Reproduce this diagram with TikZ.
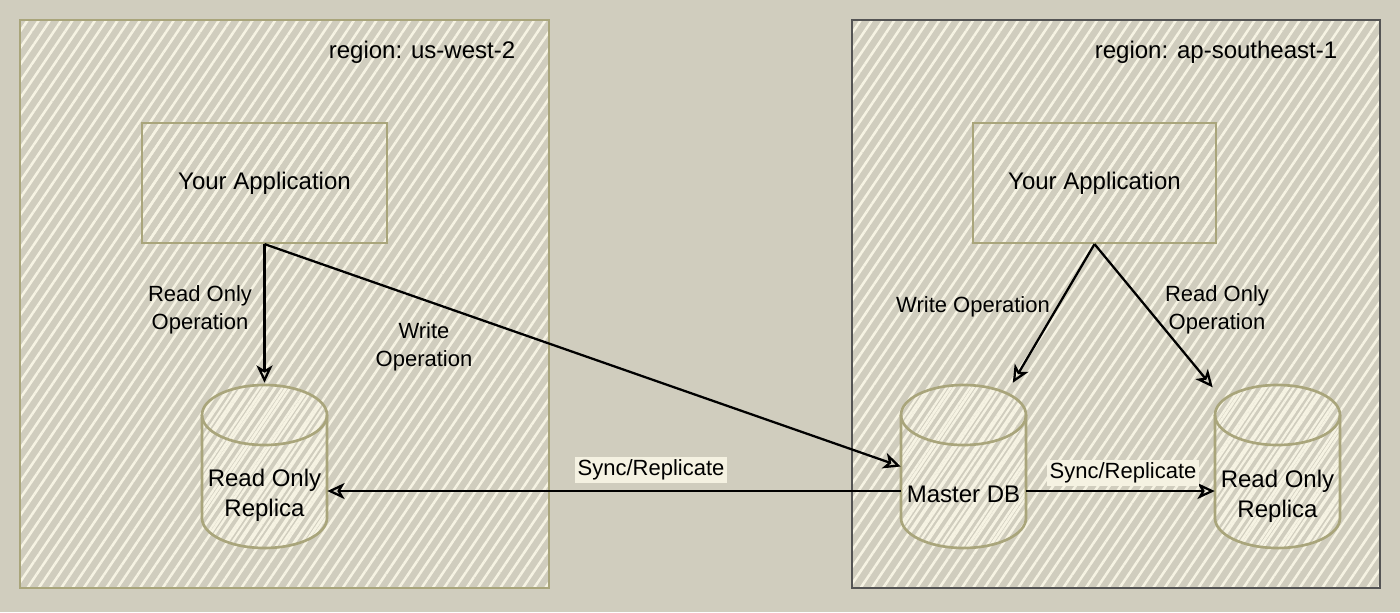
\documentclass[tikz,border=0pt]{standalone}
\usepackage{fontspec}
\setmainfont{Liberation Sans}
\usetikzlibrary{arrows.meta,patterns.meta,calc}
\definecolor{bg}{HTML}{D0CDBE}
\definecolor{hatch}{HTML}{F6F3E3}
\definecolor{olive}{HTML}{A9A57B}
\definecolor{darkb}{HTML}{545454}
\definecolor{lblbg}{HTML}{F5F2E2}
\newcommand\mycyl[5]{%
  \path[cylfill] (#2-62.5,#3-51.5) -- (#2-62.5,#3+51.5)
    arc[start angle=180,end angle=360,x radius=46.875pt,y radius=22.5pt]
    -- (#2+62.5,#3-51.5)
    arc[start angle=0,end angle=180,x radius=46.875pt,y radius=22.5pt] -- cycle;
  \draw[cylline] (#2-62.5,#3-51.5)
    arc[start angle=180,end angle=360,x radius=46.875pt,y radius=22.5pt];
  \node[cylbox] (#1) at (#2,#3) {};
  \node[cyltext] (#1t) at (#2,#3+#4) {#5};
}
\begin{document}
\begin{tikzpicture}[x=0.75pt,y=-0.75pt,
  hatched/.style={pattern={Lines[angle=56,distance=7pt,line width=1.9pt]},pattern color=hatch},
  densehatch/.style={pattern={Lines[angle=56,distance=4.8pt,line width=1.7pt]},pattern color=hatch},
  regionbox/.style={hatched,line width=2pt,minimum height=426pt,inner sep=0pt},
  appbox/.style={draw=olive,line width=1.6pt,hatched,minimum width=183.75pt,minimum height=90pt,
    inner sep=0pt,font=\fontsize{18pt}{21pt}\selectfont},
  cylfill/.style={densehatch,draw=olive,line width=2pt},
  cylline/.style={draw=olive,line width=2pt},
  cylbox/.style={minimum width=93.75pt,minimum height=122.25pt,inner sep=0pt},
  cyltext/.style={align=center,font=\fontsize{18pt}{22.5pt}\selectfont,inner sep=0pt},
  regtext/.style={font=\fontsize{18pt}{21pt}\selectfont,inner sep=0pt},
  lbl/.style={align=center,font=\fontsize{16.5pt}{21pt}\selectfont,inner sep=1pt},
  synclbl/.style={lbl,fill=lblbg,inner sep=2pt},
  arr/.style={line width=1.7pt,-{Stealth[open,length=13pt,width=12pt,inset=3.5pt]}}
]
\useasboundingbox (0,0) rectangle (1400,612);
\fill[bg] (0,0) rectangle (1400,612);
% regions
\node[regionbox,draw=olive,minimum width=396.75pt] (lreg) at (284.5,304) {};
\node[regionbox,draw=darkb,minimum width=396pt] (rreg) at (1116,304) {};
\node[regtext] (lregt) at (422,52) {region: us-west-2};
\node[regtext] (rregt) at (1216,52) {region: ap-southeast-1};
% applications
\node[appbox] (lapp) at (264.5,183) {\raisebox{-1.5pt}{Your Application}};
\node[appbox,minimum width=182.25pt] (rapp) at (1094.5,183) {\raisebox{-1.5pt}{Your Application}};
% databases
\mycyl{lrep}{264.5}{466.5}{29}{Read Only\\Replica}
\mycyl{master}{963.5}{466.5}{28}{Master DB}
\mycyl{rrep}{1277.5}{466.5}{30}{Read Only\\Replica}
% connectors
\draw[arr] (lapp.south) -- ([yshift=1.5pt]lrep.north);
\draw[arr] (lapp.south) -- (master.west);
\draw[arr] ([yshift=-18.4pt]master.west) -- ([yshift=-18.4pt]lrep.east);
\draw[arr] (rapp.south) -- ([xshift=37pt,yshift=1.5pt]master.north);
\draw[arr] (rapp.south) -- ([xshift=-1.5pt,yshift=-2pt]rrep.north west);
\draw[arr] ([yshift=-18.4pt]master.east) -- ([yshift=-18.4pt]rrep.west);
% labels
\node[lbl] (l1) at (200,309.5) {Read Only\\Operation};
\node[lbl] (l2) at (424,347) {Write\\Operation};
\node[synclbl] (l3) at (651,470) {Sync/Replicate};
\node[lbl] (l4) at (973,307) {Write Operation};
\node[lbl] (l5) at (1217,309.5) {Read Only\\Operation};
\node[synclbl] (l6) at (1123,473) {Sync/Replicate};
\end{tikzpicture}
\end{document}
